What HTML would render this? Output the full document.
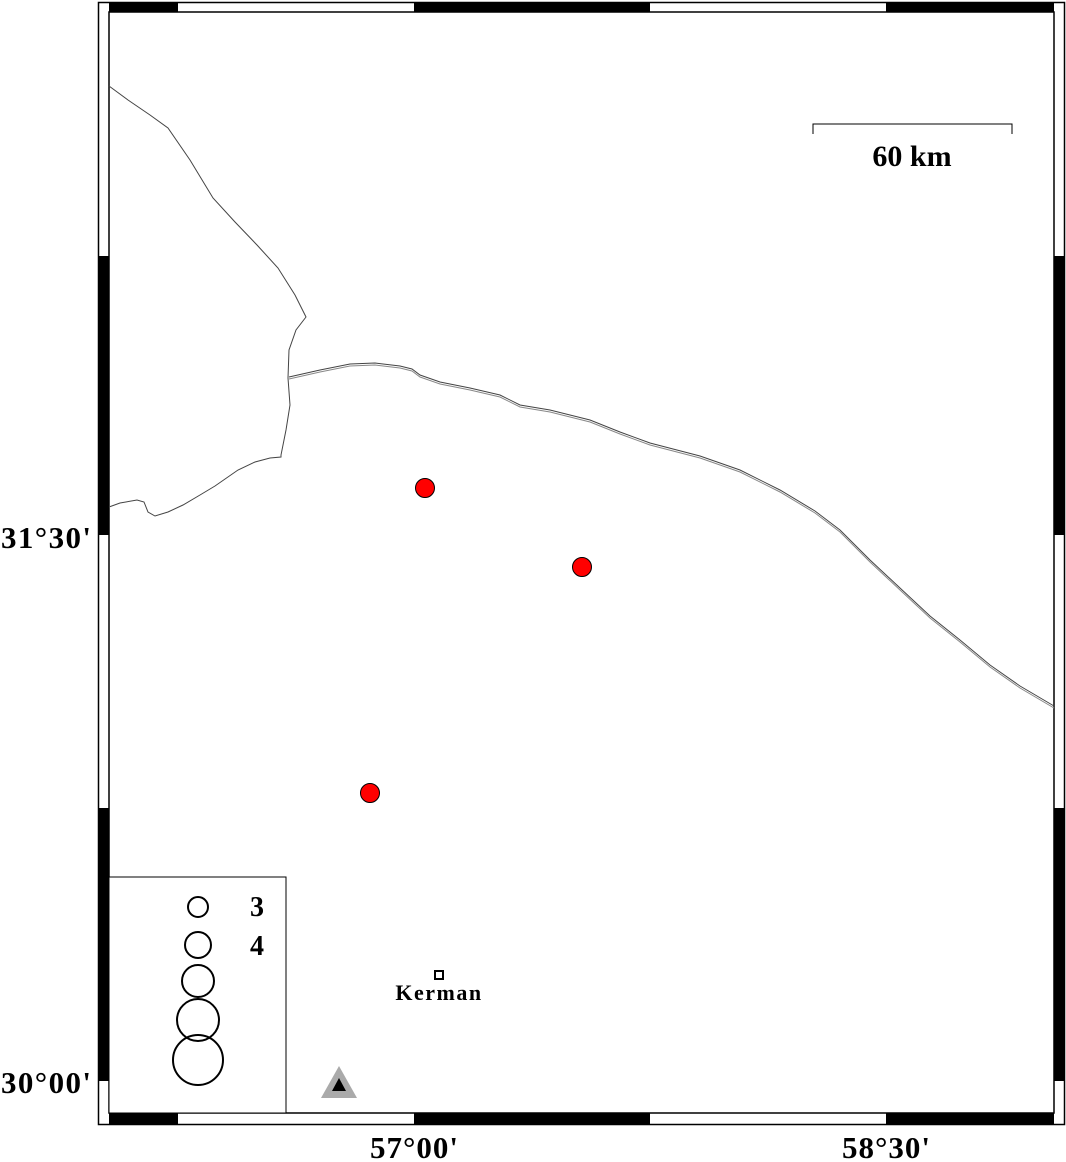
<!DOCTYPE html>
<html><head><style>body{margin:0;background:#fff}svg{display:block}</style></head><body>
<svg width="1066" height="1162" xmlns="http://www.w3.org/2000/svg" font-family="Liberation Serif, serif" font-weight="bold">
<rect x="98.5" y="2.5" width="966" height="1122" fill="none" stroke="#000" stroke-width="1.5"/>
<rect x="109" y="12" width="945" height="1101" fill="none" stroke="#000" stroke-width="1.5"/>
<g fill="#000">
<rect x="109" y="2" width="69" height="10"/><rect x="414" y="2" width="236" height="10"/><rect x="886" y="2" width="168" height="10"/>
<rect x="109" y="1113" width="69" height="11"/><rect x="414" y="1113" width="236" height="11"/><rect x="886" y="1113" width="168" height="11"/>
<rect x="98" y="256" width="11" height="279"/><rect x="98" y="808" width="11" height="273"/>
<rect x="1054" y="256" width="11" height="279"/><rect x="1054" y="808" width="11" height="273"/>
</g>
<g fill="none" stroke="#444" stroke-width="1">
<polyline points="109,86 128,100 150,115 168,128 190,160 213,198 235,222 257,245 278,268 295,295 306,317 296,330 289,350 288,378 290,405 286,430 281,455 281,457 270,458 255,462 238,470 215,486 200,495 183,505 168,512 155,516 148,512 144,502 137,500 120,503 109,507"/>
<polyline points="289,377 320,370 350,364 375,363 400,366 412,369 420,375 440,382 470,388 500,395 520,405 550,410 590,420 620,432 650,443 700,456 740,470 780,490 815,511 840,530 870,560 900,588 930,616 960,640 990,665 1020,686 1054,706"/>
<polyline points="289,379 320,372 350,366 375,365 400,368 412,371 420,377 440,384 470,390 500,397 520,407 550,412 590,422 620,434 650,445 700,458 740,472 780,492 815,513 840,532 870,562 900,590 930,618 960,642 990,667 1020,688 1054,708" stroke="#888"/>
</g>
<g stroke="#000" stroke-width="1" fill="none"><polyline points="813,134 813,124 1012,124 1012,134"/></g>
<text x="912" y="166" font-size="30" text-anchor="middle">60 km</text>
<g fill="#f00" stroke="#000" stroke-width="1"><circle cx="425" cy="488" r="9.5"/><circle cx="582" cy="567" r="9.5"/><circle cx="370" cy="793" r="9.5"/></g>
<rect x="109" y="877" width="177" height="236" fill="#fff" stroke="#000" stroke-width="1"/>
<g fill="none" stroke="#000" stroke-width="2"><circle cx="198" cy="907" r="10"/><circle cx="198" cy="945" r="13"/><circle cx="198" cy="981" r="16"/><circle cx="198" cy="1020" r="21"/><circle cx="198" cy="1060" r="25"/></g>
<text x="250" y="916" font-size="28">3</text><text x="250" y="955" font-size="28">4</text>
<rect x="435" y="971" width="8" height="8" fill="#fff" stroke="#000" stroke-width="2"/>
<text x="439" y="1000" font-size="22" letter-spacing="1.5" text-anchor="middle">Kerman</text>
<polygon points="339,1066 321,1098 357,1098" fill="#aaa"/><polygon points="339,1078 332,1091 346,1091" fill="#000"/>
<g font-size="31"><text x="46" y="548" text-anchor="middle" textLength="90">31°30'</text><text x="46" y="1093" text-anchor="middle" textLength="90">30°00'</text>
<text x="414" y="1158" text-anchor="middle" textLength="88">57°00'</text><text x="886" y="1158" text-anchor="middle" textLength="88">58°30'</text></g>
</svg>
</body></html>
